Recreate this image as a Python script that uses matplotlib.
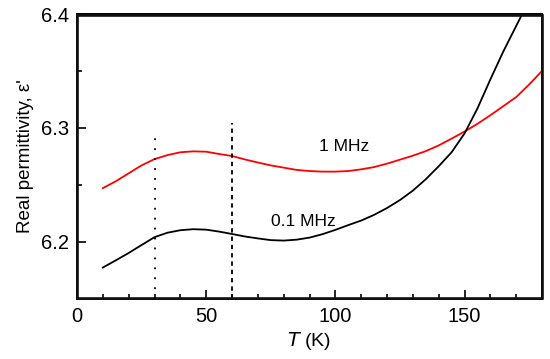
import numpy as np
import matplotlib
matplotlib.use('Agg')
import matplotlib.pyplot as plt
from matplotlib.patches import Rectangle
from matplotlib.ticker import MultipleLocator

plt.rcParams['font.family'] = ['Liberation Sans', 'DejaVu Sans']

# temperature grid (K)
T = [10, 15, 20, 25, 30, 35, 40, 45, 50, 55, 60, 65, 70, 75, 80, 85, 90,
     95, 100, 105, 110, 115, 120, 125, 130, 135, 140, 145, 150, 155, 160,
     165, 170, 175, 180]

# 1 MHz curve
eps_1mhz = [6.247, 6.253, 6.260, 6.267, 6.2725, 6.276, 6.2785, 6.2793,
            6.279, 6.277, 6.2752, 6.2722, 6.2695, 6.267, 6.265, 6.263,
            6.262, 6.2615, 6.2615, 6.262, 6.2635, 6.2655, 6.2685, 6.272,
            6.2755, 6.2795, 6.2845, 6.2905, 6.2967, 6.3035, 6.311, 6.319,
            6.327, 6.338, 6.350]

# 0.1 MHz curve (runs off the top near 172 K)
T_01 = [10, 15, 20, 25, 30, 35, 40, 45, 50, 55, 60, 65, 70, 75, 80, 85, 90,
        95, 100, 105, 110, 115, 120, 125, 130, 135, 140, 145, 150, 155, 160,
        165, 170, 175]
eps_01mhz = [6.1772, 6.1835, 6.190, 6.197, 6.2039, 6.2078, 6.2100, 6.2109,
             6.2105, 6.2088, 6.2067, 6.2045, 6.2028, 6.2013, 6.2009, 6.2017,
             6.2035, 6.2065, 6.2103, 6.2145, 6.2185, 6.2235, 6.2295, 6.2365,
             6.2448, 6.2548, 6.2662, 6.2785, 6.2950, 6.3170, 6.3425, 6.3670,
             6.3895, 6.412]

fig = plt.figure(figsize=(5.5, 3.59), dpi=100)
ax = fig.add_axes([0.14, 0.1685, 0.8455, 0.7925])

ax.plot(T, eps_1mhz, color='red', lw=1.3)
ax.plot(T_01, eps_01mhz, color='black', lw=1.3)

# transition markers
ax.plot([30, 30], [6.15, 6.295], color='black', lw=1.3, linestyle=(0, (1, 4.5)))
ax.plot([60, 60], [6.15, 6.304], color='black', lw=1.3, linestyle=(0, (2.4, 2.2)))

ax.text(103.5, 6.284, '1 MHz', ha='center', va='center', fontsize=12.5)
ax.text(87.5, 6.218, '0.1 MHz', ha='center', va='center', fontsize=12.5)

ax.set_xlim(0, 180)
ax.set_ylim(6.15, 6.4)
ax.xaxis.set_major_locator(MultipleLocator(50))
ax.xaxis.set_minor_locator(MultipleLocator(10))
ax.yaxis.set_major_locator(MultipleLocator(0.1))
ax.yaxis.set_minor_locator(MultipleLocator(0.05))
ax.tick_params(which='both', direction='in', top=False, right=False,
               labelsize=14.5, width=1.2)
ax.tick_params(which='major', length=6.5, pad=6)
ax.tick_params(which='minor', length=3.8)
for s in ax.spines.values():
    s.set_linewidth(1.4)
    s.set_color('black')

# full box round the plot area
ax.add_patch(Rectangle((0.001, 0.001), 0.998, 0.997, transform=ax.transAxes,
                       fill=False, edgecolor='#111111', lw=1.9, clip_on=False,
                       zorder=5))

ax.set_xlabel('$T$ (K)', fontsize=14, labelpad=3)
ax.set_ylabel("Real permittivity, \u03b5'", fontsize=13.5, labelpad=5)

fig.savefig('out.png', dpi=100)
